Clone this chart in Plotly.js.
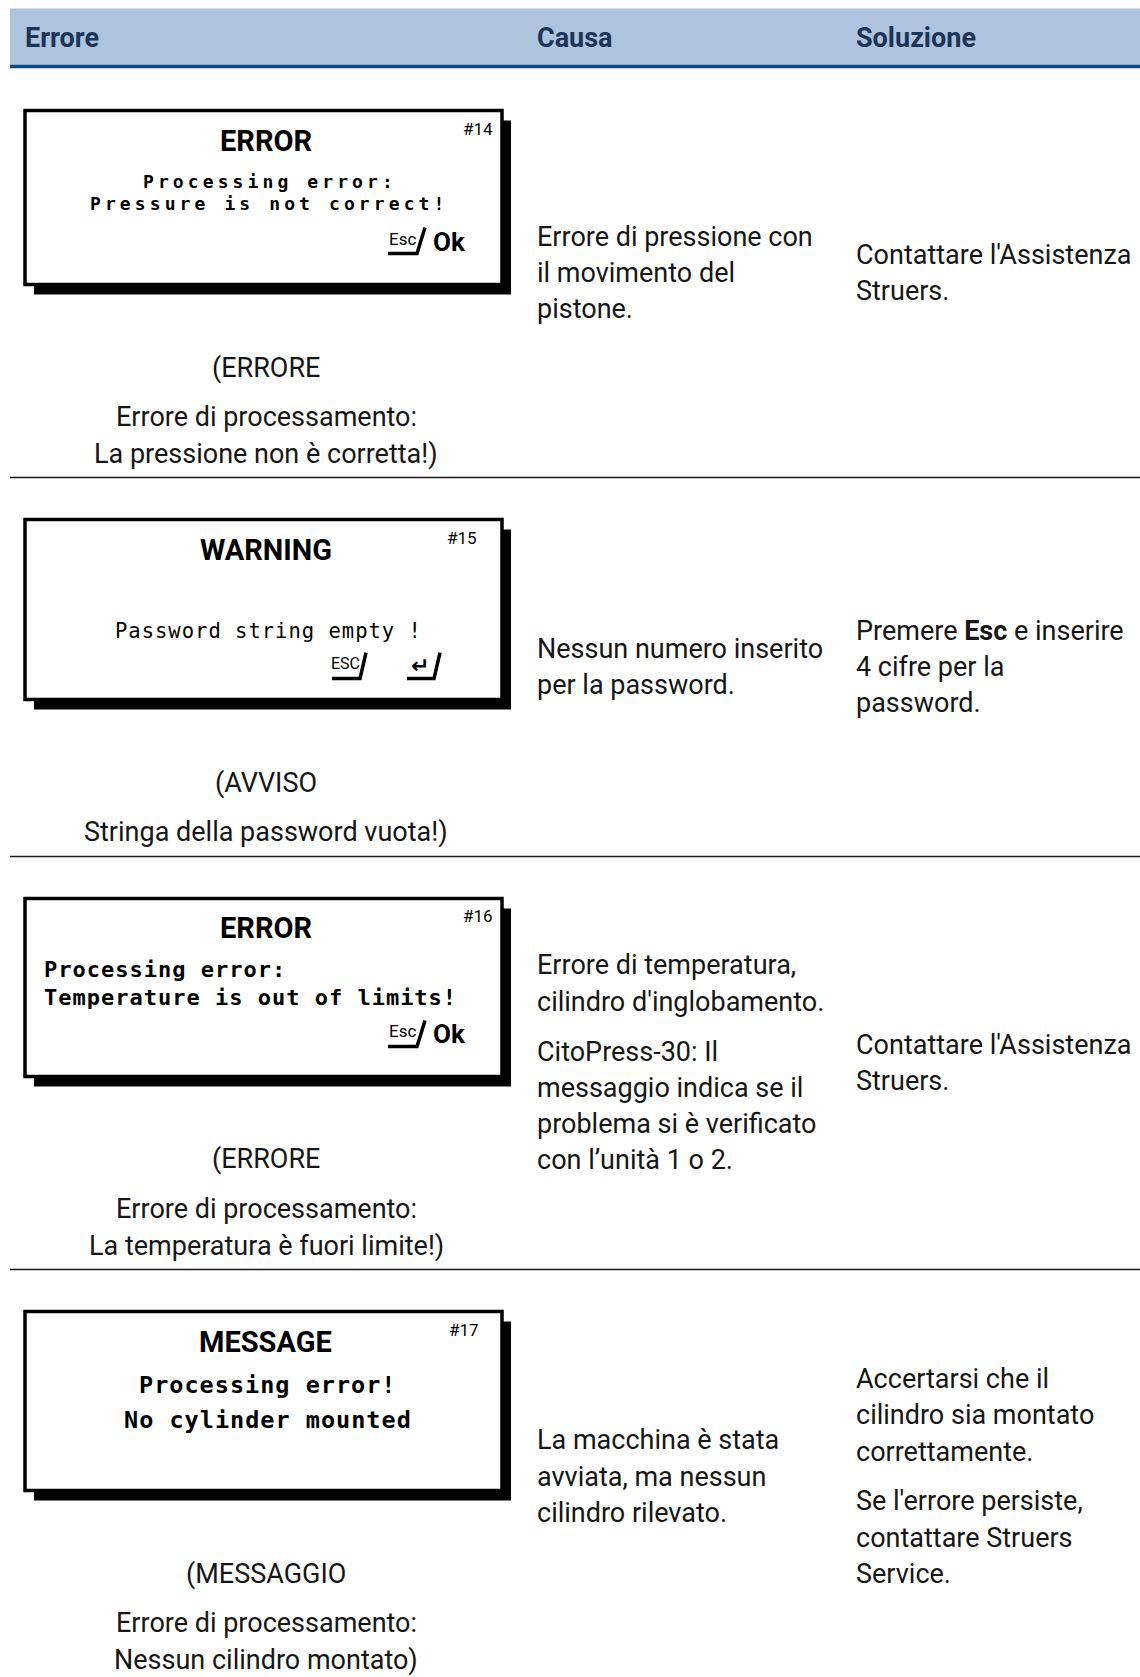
<!DOCTYPE html>
<html>
<head>
<meta charset="utf-8">
<script src="https://cdn.plot.ly/plotly-3.0.1.min.js"></script>
<style>
html,body{margin:0;padding:0;background:#ffffff;}
#chart{width:1140px;height:1677px;}
</style>
</head>
<body>
<div id="chart"></div>
<script>
// ---------------- DATA ----------------
const columns = ["Errore", "Causa", "Soluzione"];

const lcdTitles = ["ERROR", "WARNING", "ERROR", "MESSAGE"];
const lcdCodes = ["#14", "#15", "#16", "#17"];
const lcdMessages = [
  ["Processing error:", "Pressure is not correct!"],
  ["Password string empty !"],
  ["Processing error:", "Temperature is out of limits!"],
  ["Processing error!", "No cylinder mounted"]
];
const lcdKeys = [
  ["Esc", "Ok"],
  ["ESC", "↵"],
  ["Esc", "Ok"],
  []
];

const translations = [
  [["(ERRORE"], ["Errore di processamento:", "La pressione non è corretta!)"]],
  [["(AVVISO"], ["Stringa della password vuota!)"]],
  [["(ERRORE"], ["Errore di processamento:", "La temperatura è fuori limite!)"]],
  [["(MESSAGGIO"], ["Errore di processamento:", "Nessun cilindro montato)"]]
];

const causes = [
  [["Errore di pressione con", "il movimento del", "pistone."]],
  [["Nessun numero inserito", "per la password."]],
  [["Errore di temperatura,", "cilindro d'inglobamento."],
   ["CitoPress-30: Il", "messaggio indica se il", "problema si è verificato", "con l’unità 1 o 2."]],
  [["La macchina è stata", "avviata, ma nessun", "cilindro rilevato."]]
];

const solutions = [
  [["Contattare l'Assistenza", "Struers."]],
  [["Premere <b>Esc</b> e inserire", "4 cifre per la", "password."]],
  [["Contattare l'Assistenza", "Struers."]],
  [["Accertarsi che il", "cilindro sia montato", "correttamente."],
   ["Se l'errore persiste,", "contattare Struers", "Service."]]
];

// ---------------- LAYOUT / STYLE ----------------
const W = 1140, H = 1677;
const BODY_FONT = 'Roboto, "Noto Sans", sans-serif';
const LCD_FONT = '"DejaVu Sans Mono", monospace';
const BODY_SIZE = 27, HEAD_SIZE = 27, LINE = 36.3, PARA_GAP = 13.5;
const TEXT_COLOR = '#161616';
const colX = [23, 535, 854];
const LEFT_CX = 266;
const header = {top: 8.5, bottom: 65, left: 10, fill: '#aec3dd', line: '#0f4a84', text: '#1b3458'};
const box = {left: 25, right: 502, topPad: 42, dx: 9, dy: 10, heights: [174, 180, 178, 179], gapBelow: 73};
const lcdTitleDy = 30, lcdCodeDy = 18;
const codeInset = [7, 23, 7, 21];
const msgTopDy = [71, 111, 71, 73];     // centre of first message line below screen top
const msgGap = [22, 0, 28, 35];         // distance between message lines
const msgAlign = ['center', 'center', 'left', 'center'];
const msgSize = [18, 20.5, 22, 23.5];
const msgSpacing = [4.1, 1, 1, 1];
const msgBold = [true, false, true, true];
const keyDy = [131, 147, 136, 0];

const shapes = [];
const annotations = [];

function txt(text, x, y, opts) {
  annotations.push(Object.assign({
    text: text, x: x, y: y, xref: 'x', yref: 'y',
    xanchor: 'left', yanchor: 'middle', showarrow: false,
    font: {family: BODY_FONT, size: BODY_SIZE, color: TEXT_COLOR}
  }, opts || {}));
}

function blockHeight(paras) {
  let n = 0; paras.forEach(p => n += p.length);
  return (n - 1) * LINE + (paras.length - 1) * PARA_GAP;
}

function addBlock(paras, x, yFirst, anchor) {
  let y = yFirst;
  paras.forEach((p, pi) => {
    if (pi > 0) y += PARA_GAP;
    p.forEach((line, li) => {
      if (pi > 0 || li > 0) y += LINE;
      txt(line, x, y, {xanchor: anchor});
    });
  });
  return y;
}

// header
shapes.push({type: 'rect', xref: 'x', yref: 'y', x0: header.left, x1: W, y0: header.top, y1: header.bottom,
  fillcolor: header.fill, line: {width: 0}, layer: 'below'});
shapes.push({type: 'line', xref: 'x', yref: 'y', x0: header.left, x1: W, y0: header.bottom + 1.5, y1: header.bottom + 1.5,
  line: {color: header.line, width: 3.5}});
columns.forEach((c, i) => {
  txt(c, colX[i], (header.top + header.bottom) / 2 + 1,
    {font: {family: BODY_FONT, size: HEAD_SIZE, color: header.text, weight: 'bold'}});
});

function keyGlyph(xa, xb, xc, y) {
  shapes.push({type: 'path', xref: 'x', yref: 'y',
    path: `M ${xa} ${y + 12} L ${xb} ${y + 12} L ${xc} ${y - 14}`,
    line: {color: '#000', width: 3.5}});
}

let rowTop = header.bottom + 3.5;
const boxCx = (box.left + box.right) / 2;
for (let i = 0; i < lcdTitles.length; i++) {
  const bTop = rowTop + box.topPad;
  const bBot = bTop + box.heights[i];
  // LCD screen
  shapes.push({type: 'rect', xref: 'x', yref: 'y', x0: box.left + box.dx, x1: box.right + box.dx,
    y0: bTop + box.dy, y1: bBot + box.dy, fillcolor: '#000', line: {width: 0}});
  shapes.push({type: 'rect', xref: 'x', yref: 'y', x0: box.left, x1: box.right, y0: bTop, y1: bBot,
    fillcolor: '#fff', line: {color: '#000', width: 3.5}});
  txt(lcdTitles[i], boxCx + 2, bTop + lcdTitleDy,
    {xanchor: 'center', font: {family: BODY_FONT, size: 29, color: '#000', weight: 'bold'}});
  txt(lcdCodes[i], box.right - codeInset[i], bTop + lcdCodeDy,
    {xanchor: 'right', font: {family: BODY_FONT, size: 17, color: '#000'}});
  // screen message lines
  const left = msgAlign[i] === 'left';
  lcdMessages[i].forEach((m, k) => {
    txt(`<span style="letter-spacing:${msgSpacing[i]}px">${m}</span>`,
      left ? box.left + 17 : boxCx + 4 + msgSpacing[i] / 2, bTop + msgTopDy[i] + k * msgGap[i],
      {xanchor: left ? 'left' : 'center',
       font: {family: LCD_FONT, size: msgSize[i], color: '#000', weight: msgBold[i] ? 'bold' : 'normal'}});
  });
  const keys = lcdKeys[i];
  if (keys.length) {
    const ky = bTop + keyDy[i];
    const R = box.right;
    if (keys[1] === 'Ok') {
      txt(keys[0], R - 100, ky - 3, {xanchor: 'center', font: {family: BODY_FONT, size: 17, color: '#000'}});
      keyGlyph(R - 114, R - 85, R - 77, ky);
      txt(keys[1], R - 53, ky, {xanchor: 'center', font: {family: BODY_FONT, size: 26, color: '#000', weight: 'bold'}});
    } else {
      txt(keys[0], R - 157, ky - 3, {xanchor: 'center', font: {family: BODY_FONT, size: 16, color: '#000'}});
      keyGlyph(R - 170, R - 142, R - 136, ky);
      txt(keys[1], R - 82, ky - 1, {xanchor: 'center', font: {family: '"DejaVu Sans"', size: 22, color: '#000', weight: 'bold'}});
      keyGlyph(R - 95, R - 68, R - 62, ky);
    }
  }
  // translation under screen
  const trFirst = bBot + box.dy + box.gapBelow;
  const lastY = addBlock(translations[i], LEFT_CX, trFirst, 'center');
  const rowBottom = lastY + 24;
  const cy = (rowTop + rowBottom) / 2;
  addBlock(causes[i], colX[1], cy - blockHeight(causes[i]) / 2, 'left');
  addBlock(solutions[i], colX[2], cy - blockHeight(solutions[i]) / 2, 'left');
  if (i < lcdTitles.length - 1) {
    shapes.push({type: 'line', xref: 'x', yref: 'y', x0: header.left, x1: W, y0: rowBottom, y1: rowBottom,
      line: {color: '#1a1a1a', width: 1.5}});
  }
  rowTop = rowBottom;
}

const layout = {
  width: W, height: H,
  margin: {l: 0, r: 0, t: 0, b: 0, pad: 0},
  paper_bgcolor: '#ffffff', plot_bgcolor: '#ffffff',
  showlegend: false,
  xaxis: {range: [0, W], visible: false, fixedrange: true},
  yaxis: {range: [H, 0], visible: false, fixedrange: true},
  shapes: shapes,
  annotations: annotations
};

Plotly.newPlot('chart', [], layout, {staticPlot: true, displayModeBar: false});
</script>
</body>
</html>
